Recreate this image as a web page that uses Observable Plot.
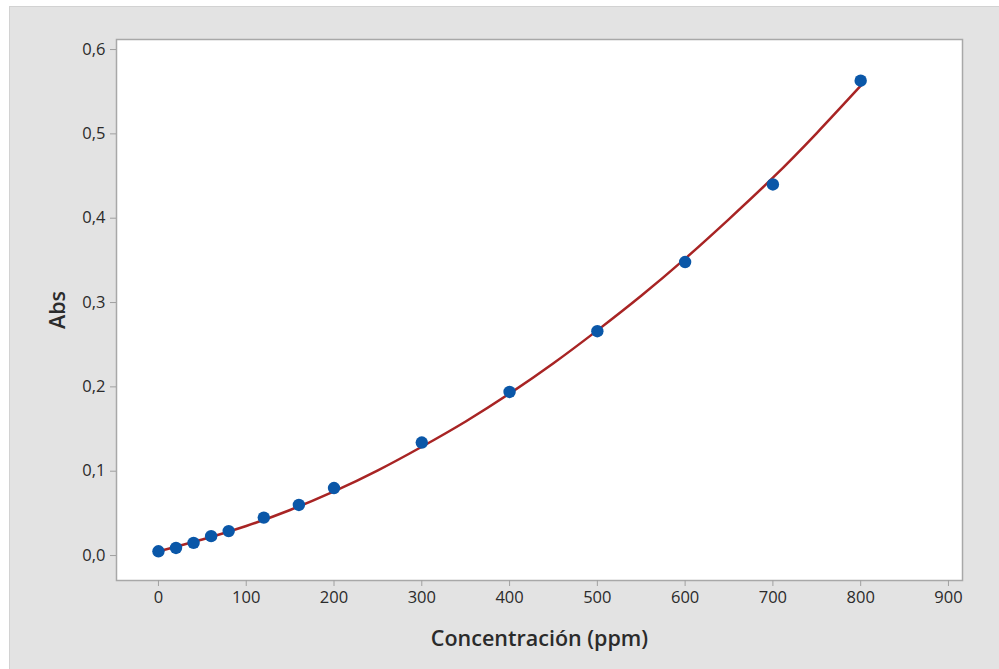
<!DOCTYPE html>
<html>
<head>
<meta charset="utf-8">
<script src="https://cdn.jsdelivr.net/npm/d3@7"></script>
<script src="https://cdn.jsdelivr.net/npm/@observablehq/plot@0.6"></script>
<style>
  html, body { margin: 0; padding: 0; background: #ffffff; }
  #wrap { position: absolute; left: 0; top: 0; width: 999px; height: 669px; overflow: hidden; }
  #panel { position: absolute; left: 9px; top: 6px; width: 1000px; height: 700px; background: #e3e3e3; border-left: 1px solid #d2d2d2; border-top: 1px solid #d2d2d2; }
  #chart { position: absolute; left: 0; top: 0; }
</style>
</head>
<body>
<div id="wrap"><div id="panel"></div><div id="chart"></div></div>
<script>
// Measured points
const concentration = [0, 20, 40, 60, 80, 120, 160, 200, 300, 400, 500, 600, 700, 800];
const absorbance = [0.005, 0.009, 0.015, 0.023, 0.029, 0.045, 0.060, 0.080, 0.134, 0.194, 0.266, 0.348, 0.440, 0.563];

// Fitted curve
const fitX = [0, 50, 100, 150, 200, 250, 300, 350, 400, 450, 500, 550, 600, 650, 700, 750, 800];
const fitY = [0.005, 0.019, 0.035, 0.054, 0.076, 0.101, 0.129, 0.159, 0.192, 0.228, 0.267, 0.308, 0.352, 0.399, 0.448, 0.501, 0.557];

const xTicks = [0, 100, 200, 300, 400, 500, 600, 700, 800, 900];
const yTicks = [0, 0.1, 0.2, 0.3, 0.4, 0.5, 0.6];

const points = concentration.map((c, i) => ({x: c, y: absorbance[i]}));
const fit = fitX.map((c, i) => ({x: c, y: fitY[i]}));

const fmt = d => d.toFixed(1).replace(".", ",");

const chart = Plot.plot({
  width: 999,
  height: 669,
  marginLeft: 116,
  marginRight: 37,
  marginTop: 39,
  marginBottom: 89,
  style: {background: "transparent", fontFamily: "'Open Sans', sans-serif", color: "#2b2b2b"},
  x: {domain: [-47.8, 916], ticks: xTicks},
  y: {domain: [-0.0296, 0.6119], ticks: yTicks},
  marks: [
    Plot.frame({fill: "white", stroke: "#a8a8a8", strokeWidth: 1.5}),
    Plot.axisX({ticks: xTicks, tickSize: 6, tickPadding: 5, fontSize: 16.5, stroke: "#a0a0a0",
      label: "Concentración (ppm)", labelAnchor: "center", labelOffset: 65, labelArrow: "none"}),
    Plot.axisY({ticks: yTicks, tickSize: 6, tickPadding: 5, fontSize: 16.5, stroke: "#a0a0a0", tickFormat: fmt,
      label: "Abs", labelAnchor: "center", labelOffset: 67, labelArrow: "none"}),
    Plot.line(fit, {x: "x", y: "y", stroke: "#a82424", strokeWidth: 2.5, curve: "natural"}),
    Plot.dot(points, {x: "x", y: "y", r: 6.2, fill: "#0a57a8", stroke: "none"})
  ]
});
chart.querySelectorAll("g[aria-label='x-axis label'] text, g[aria-label='y-axis label'] text").forEach(t => {
  t.setAttribute("font-size", "21.5");
  t.style.fontSize = "21.5px";
  t.style.fontWeight = "600";
  t.setAttribute("fill", "#2b2b2b");
});
document.getElementById("chart").appendChild(chart);
</script>
</body>
</html>
